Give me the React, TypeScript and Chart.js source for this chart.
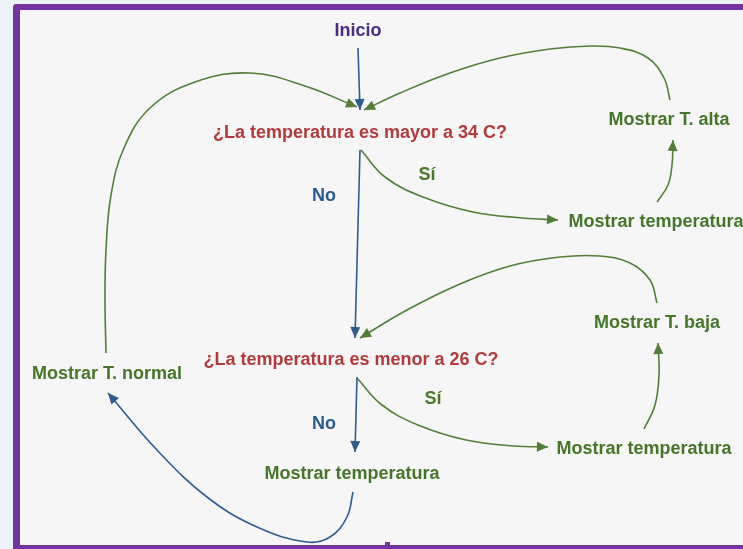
import React, { useEffect, useRef } from "react";
import { Chart, registerables } from "chart.js";

Chart.register(...registerables);

// ---- Diagram data (coordinates in diagram units, drawn through the chart's scales) ----
const nodeLabels = [
  "Inicio",
  "¿La temperatura es mayor a 34 C?",
  "Mostrar temperatura",
  "Mostrar T. alta",
  "¿La temperatura es menor a 26 C?",
  "Mostrar T. baja",
  "Mostrar temperatura",
  "Mostrar temperatura",
  "Mostrar T. normal",
];
const nodeX = [358, 360, 656, 669, 351, 657, 644, 352, 107];
const nodeY = [31, 133, 222, 120, 360, 323, 449, 474, 374];
const nodeKinds = ["start", "question", "action", "action", "question", "action", "action", "action", "action"];

const branchLabels = ["No", "Sí", "No", "Sí"];
const branchX = [324, 427, 324, 433];
const branchY = [196, 175, 424, 399];
const branchKinds = ["no", "yes", "no", "yes"];

// Edges: polyline control points, interpolated by Chart.js spline
const edgeInicioQ1 = [[358, 48], [360, 110]];
const edgeNormalQ1 = [[106, 353], [105, 300], [106, 250], [111, 195], [124, 148], [150, 108], [195, 82], [250, 73], [305, 86], [357, 107]];
const edgeAltaQ1 = [[670, 100], [664, 78], [648, 58], [620, 48], [590, 46], [550, 49], [500, 58], [450, 73], [400, 93], [364, 110]];
const edgeQ1Si = [[361, 150], [385, 177], [423, 197], [473, 212], [523, 218], [558, 220]];
const edgeTempAlta = [[657, 202], [668, 185], [672, 165], [673, 140]];
const edgeQ1No = [[360, 150], [355, 338]];
const edgeBajaQ2 = [[657, 303], [650, 280], [630, 263], [600, 256], [560, 257], [510, 266], [460, 284], [407, 310], [360, 338]];
const edgeTempBaja = [[644, 429], [655, 405], [659, 375], [658, 343]];
const edgeQ2Si = [[357, 378], [382, 405], [418, 425], [466, 440], [514, 446], [548, 447]];
const edgeQ2No = [[357, 377], [355, 452]];
const edgeTempNormal = [[353, 492], [347, 517], [330, 537], [307, 542], [257, 527], [207, 497], [157, 450], [108, 393]];

const edges = [
  { pts: edgeInicioQ1, kind: "no" },
  { pts: edgeNormalQ1, kind: "yes" },
  { pts: edgeAltaQ1, kind: "yes" },
  { pts: edgeQ1Si, kind: "yes" },
  { pts: edgeTempAlta, kind: "yes" },
  { pts: edgeQ1No, kind: "no" },
  { pts: edgeBajaQ2, kind: "yes" },
  { pts: edgeTempBaja, kind: "yes" },
  { pts: edgeQ2Si, kind: "yes" },
  { pts: edgeQ2No, kind: "no" },
  { pts: edgeTempNormal, kind: "no" },
];

// ---- Styles ----
const TEXT_COLORS: Record<string, string> = {
  start: "#4a2c85",
  question: "#b23a3a",
  action: "#44762a",
  no: "#285a8e",
  yes: "#4a7a28",
};
const LINE_COLORS: Record<string, string> = {
  yes: "#527f38",
  no: "#2f5c8f",
};
const FONT = "bold 18px 'Liberation Sans', Arial, Helvetica, sans-serif";

const labelsPlugin = {
  id: "flowLabels",
  afterDatasetsDraw(chart: any) {
    const ctx = chart.ctx;
    const xs = chart.scales.x;
    const ys = chart.scales.y;
    // arrowheads
    chart.data.datasets.forEach((ds: any, i: number) => {
      const meta = chart.getDatasetMeta(i);
      const pts = meta.data;
      if (!pts || pts.length < 2) return;
      const last = pts[pts.length - 1];
      let dx = last.x - (last.cp1x ?? pts[pts.length - 2].x);
      let dy = last.y - (last.cp1y ?? pts[pts.length - 2].y);
      if (Math.hypot(dx, dy) < 0.5) {
        dx = last.x - pts[pts.length - 2].x;
        dy = last.y - pts[pts.length - 2].y;
      }
      const len = Math.hypot(dx, dy) || 1;
      const ux = dx / len;
      const uy = dy / len;
      const L = 11;
      const W = 5;
      const bx = last.x - ux * L;
      const by = last.y - uy * L;
      ctx.save();
      ctx.fillStyle = ds.borderColor;
      ctx.beginPath();
      ctx.moveTo(last.x, last.y);
      ctx.lineTo(bx - uy * W, by + ux * W);
      ctx.lineTo(bx + uy * W, by - ux * W);
      ctx.closePath();
      ctx.fill();
      ctx.restore();
    });
    // text
    ctx.save();
    ctx.font = FONT;
    ctx.textAlign = "center";
    ctx.textBaseline = "middle";
    nodeLabels.forEach((t, i) => {
      ctx.fillStyle = TEXT_COLORS[nodeKinds[i]];
      ctx.fillText(t, xs.getPixelForValue(nodeX[i]), ys.getPixelForValue(nodeY[i]));
    });
    branchLabels.forEach((t, i) => {
      ctx.fillStyle = TEXT_COLORS[branchKinds[i]];
      ctx.fillText(t, xs.getPixelForValue(branchX[i]), ys.getPixelForValue(branchY[i]));
    });
    ctx.restore();
  },
};

export default function App() {
  const ref = useRef<HTMLCanvasElement | null>(null);

  useEffect(() => {
    if (!ref.current) return;
    const chart = new Chart(ref.current, {
      type: "scatter",
      data: {
        datasets: edges.map((e) => ({
          data: e.pts.map(([x, y]) => ({ x, y })),
          showLine: true,
          borderColor: LINE_COLORS[e.kind],
          backgroundColor: LINE_COLORS[e.kind],
          borderWidth: 1.6,
          pointRadius: 0,
          pointHoverRadius: 0,
          tension: 0.4,
          fill: false,
          clip: false as any,
        })),
      },
      options: {
        animation: false,
        responsive: false,
        maintainAspectRatio: false,
        devicePixelRatio: 1,
        layout: { padding: 0 },
        events: [],
        plugins: {
          legend: { display: false },
          tooltip: { enabled: false },
          title: { display: false },
        },
        scales: {
          x: { type: "linear", min: 0, max: 743, display: false },
          y: { type: "linear", min: 0, max: 549, reverse: true, display: false },
        },
      },
      plugins: [labelsPlugin],
    });
    return () => chart.destroy();
  }, []);

  return (
    <div
      style={{
        position: "fixed",
        left: 0,
        top: 0,
        width: 743,
        height: 549,
        background: "#eef3fa",
        overflow: "hidden",
      }}
    >
      <div
        style={{
          position: "absolute",
          left: 13,
          top: 4,
          width: 760,
          height: 547,
          boxSizing: "border-box",
          borderLeft: "7px solid #7433a2",
          borderTop: "6px solid #7433a2",
          borderBottom: "6px solid #7433a2",
          borderTopLeftRadius: 4,
          background: "#f6f6f6",
        }}
      />
      <div
        style={{
          position: "absolute",
          left: 385,
          top: 542,
          width: 5,
          height: 4,
          background: "#7433a2",
        }}
      />
      <canvas
        ref={ref}
        width={743}
        height={549}
        style={{ position: "absolute", left: 0, top: 0, width: 743, height: 549 }}
      />
    </div>
  );
}
